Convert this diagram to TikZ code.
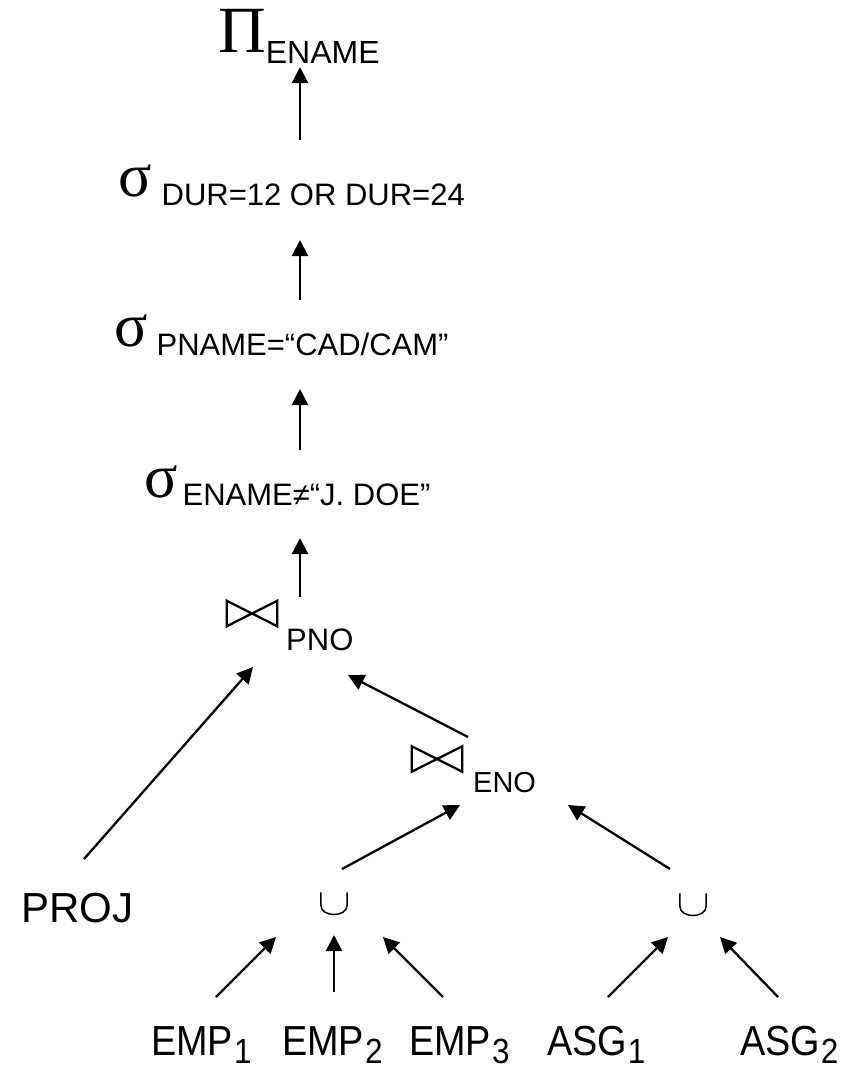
\documentclass[tikz,border=0pt]{standalone}
\usepackage{fontspec}
\setmainfont{Liberation Sans}
\newfontfamily\greekfont{Liberation Serif}
\usetikzlibrary{arrows.meta}

% font size helper: size and leading in pt
\newcommand\fsz[1]{\fontsize{#1}{#1}\selectfont}
% operator with a lowered subscript: greek letter, size, gap, drop, subscript, subscript size
\newcommand\opsub[6]{{\greekfont\fsz{#2}#1}\kern#3pt\raisebox{-#4pt}{\fsz{#6}#5}}
% relation name with a lowered index, set a little narrow
\newcommand\relsub[2]{\scalebox{0.9}[1]{{\fsz{42}#1}\kern1pt\raisebox{-8pt}{\fsz{35}#2}}}

\begin{document}
\begin{tikzpicture}[x=1pt,y=-1pt,
  lbl/.style={inner sep=0pt, anchor=base west},
  arr/.style={line width=2.3pt, -{Triangle[length=16pt,width=16pt]}},
  bowtie/.style={minimum width=50pt, minimum height=25pt, inner sep=0pt},
  bowline/.style={line width=2.3pt, line join=miter},
  cupnode/.style={minimum width=26pt, minimum height=25pt, inner sep=0pt},
  cupline/.style={line width=1.5pt}]
\fill[white] (0,0) rectangle (853,1069);
\useasboundingbox (0,0) rectangle (853,1069);

% operator chain
\node[lbl] (pi) at (218,52) {\opsub{Π}{66}{0}{11}{ENAME}{32}};
\node[lbl] (sd) at (118,196) {\opsub{σ}{62}{10}{9}{DUR=12 OR DUR=24}{31}};
\node[lbl] (sp) at (114,346) {\opsub{σ}{62}{9}{9}{PNAME=“CAD/CAM”}{31}};
\node[lbl] (se) at (144,497) {\opsub{σ}{62}{5}{8}{ENAME≠“J. DOE”}{31}};

% joins
\node[bowtie] (jp) at (252,613.5) {};
\draw[bowline] (jp.north west) -- (jp.south east) -- (jp.north east) -- (jp.south west) -- cycle;
\node[lbl] (jpl) at (286,650) {\fsz{31}PNO};
\node[bowtie] (je) at (437,759) {};
\draw[bowline] (je.north west) -- (je.south east) -- (je.north east) -- (je.south west) -- cycle;
\node[lbl] (jel) at (473,792) {\fsz{29}ENO};

% unions
\node[cupnode] (u1) at (334,905) {};
\draw[cupline] (u1.north west) -- (u1.west) .. controls (u1.south west) and (u1.south east) .. (u1.east) -- (u1.north east);
\node[cupnode] (u2) at (693,906) {};
\draw[cupline] (u2.north west) -- (u2.west) .. controls (u2.south west) and (u2.south east) .. (u2.east) -- (u2.north east);

% relations
\node[lbl] (proj) at (21,922) {\fsz{42}PROJ};
\node[lbl] (e1) at (151,1055) {\relsub{EMP}{1}};
\node[lbl] (e2) at (282,1055) {\relsub{EMP}{2}};
\node[lbl] (e3) at (409,1055) {\relsub{EMP}{3}};
\node[lbl] (a1) at (547,1055) {\relsub{ASG}{1}};
\node[lbl] (a2) at (740,1055) {\relsub{ASG}{2}};

% connectors
\draw[arr] ([shift={(182,-56)}]sd.base west) -- ([shift={(82,15)}]pi.base west);
\draw[arr] ([shift={(186,-46)}]sp.base west) -- ([shift={(182,44)}]sd.base west);
\draw[arr] ([shift={(156,-47)}]se.base west) -- ([shift={(186,43)}]sp.base west);
\draw[arr] ([shift={(48,-16.5)}]jp.center) -- ([shift={(156,41)}]se.base west);
\draw[arr] ([shift={(63,-63)}]proj.base west) -- ([shift={(1,53.5)}]jp.center);
\draw[arr] ([shift={(31,-22)}]je.center) -- ([shift={(96,61.5)}]jp.center);
\draw[arr] ([shift={(8,-36)}]u1.center) -- ([shift={(23,46)}]je.center);
\draw[arr] ([shift={(-23,-37)}]u2.center) -- ([shift={(131,46)}]je.center);
\draw[arr] ([shift={(65,-58)}]e1.base west) -- ([shift={(-58,32)}]u1.center);
\draw[arr] ([shift={(52,-63)}]e2.base west) -- ([shift={(0,30)}]u1.center);
\draw[arr] ([shift={(34,-58)}]e3.base west) -- ([shift={(49,32)}]u1.center);
\draw[arr] ([shift={(61,-58)}]a1.base west) -- ([shift={(-25,31)}]u2.center);
\draw[arr] ([shift={(38,-58)}]a2.base west) -- ([shift={(27,31)}]u2.center);
\end{tikzpicture}
\end{document}
